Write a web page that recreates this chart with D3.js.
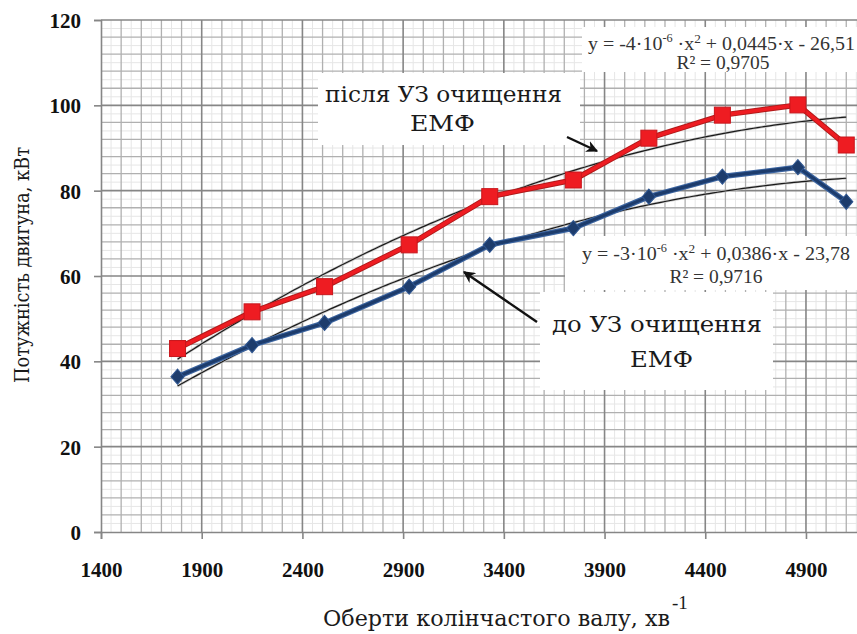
<!DOCTYPE html>
<html>
<head>
<meta charset="utf-8">
<script src="https://cdn.jsdelivr.net/npm/d3@7/dist/d3.min.js"></script>
<style>
  html, body { margin: 0; padding: 0; background: #fff; }
  svg { display: block; }
</style>
</head>
<body>
<svg id="chart" width="857" height="634"></svg>
<script>
// Crankshaft speed, rpm
const rpm = [1780, 2150, 2510, 2930, 3330, 3745, 4120, 4485, 4860, 5100];
// Engine power after ultrasonic cleaning, kW
const powerAfter = [43.0, 51.6, 57.5, 67.3, 78.6, 82.5, 92.3, 97.7, 100.1, 90.7];
// Engine power before ultrasonic cleaning, kW
const powerBefore = [36.4, 43.8, 49.0, 57.5, 67.3, 71.2, 78.6, 83.3, 85.5, 77.4];

const xTicks = [1400, 1900, 2400, 2900, 3400, 3900, 4400, 4900];
const yTicks = [0, 20, 40, 60, 80, 100, 120];

const eqAfter = "y = -4·10-6 ·x2 + 0,0445·x - 26,51";
const r2After = "R² = 0,9705";
const eqBefore = "y = -3·10-6 ·x2 + 0,0386·x - 23,78";
const r2Before = "R² = 0,9716";

const svg = d3.select("#chart");
const serif = "'Liberation Serif', 'DejaVu Serif Condensed', 'DejaVu Serif', serif";

const x = d3.scaleLinear().domain([1400, 5200]).range([101, 866.4]);
const y = d3.scaleLinear().domain([0, 120]).range([532, 20]);

const [x0, x1] = [x.range()[0], 857];
const [yBot, yTop] = y.range();

// --- grid ---------------------------------------------------------------
const grid = svg.append("g");
// fine grid
grid.selectAll(".fx").data(d3.range(1450, 5200, 100)).join("line")
  .attr("x1", d => x(d)).attr("x2", d => x(d)).attr("y1", yTop).attr("y2", yBot)
  .attr("stroke", "#e6e6e6").attr("stroke-width", 1);
grid.selectAll(".fy").data(d3.range(2, 120, 4)).join("line")
  .attr("x1", x0).attr("x2", x1).attr("y1", d => y(d)).attr("y2", d => y(d))
  .attr("stroke", "#e6e6e6").attr("stroke-width", 1);
// minor grid
grid.selectAll(".mx").data(d3.range(1500, 5200, 100).filter(d => (d - 1400) % 500 !== 0)).join("line")
  .attr("x1", d => x(d)).attr("x2", d => x(d)).attr("y1", yTop).attr("y2", yBot)
  .attr("stroke", "#b0b0b0").attr("stroke-width", 1.3);
grid.selectAll(".my").data(d3.range(4, 121, 4).filter(d => d % 20 !== 0)).join("line")
  .attr("x1", x0).attr("x2", x1).attr("y1", d => y(d)).attr("y2", d => y(d))
  .attr("stroke", "#b0b0b0").attr("stroke-width", 1.3);
// major grid
grid.selectAll(".Mx").data(xTicks.slice(1)).join("line")
  .attr("x1", d => x(d)).attr("x2", d => x(d)).attr("y1", yTop).attr("y2", yBot)
  .attr("stroke", "#868686").attr("stroke-width", 1.6);
grid.selectAll(".My").data(yTicks.slice(1)).join("line")
  .attr("x1", x0).attr("x2", x1).attr("y1", d => y(d)).attr("y2", d => y(d))
  .attr("stroke", "#868686").attr("stroke-width", 1.6);

// --- axes ---------------------------------------------------------------
const yAxis = svg.append("g").attr("transform", `translate(${x0},0)`)
  .call(d3.axisLeft(y).tickValues(yTicks).tickFormat(d3.format("d")).tickSize(7).tickPadding(13));
const xAxis = svg.append("g").attr("transform", `translate(0,${yBot})`)
  .call(d3.axisBottom(x).tickValues(xTicks).tickFormat(d3.format("d")).tickSize(7).tickPadding(23));
[xAxis, yAxis].forEach(g => {
  g.select(".domain").attr("stroke", "#868686").attr("stroke-width", 1.6);
  g.selectAll(".tick line").attr("stroke", "#868686").attr("stroke-width", 1.6);
  g.selectAll(".tick text").attr("fill", "#111").attr("font-family", serif)
    .attr("font-weight", "bold").attr("font-size", 21);
});
yAxis.selectAll(".tick text").attr("dy", "0.35em");

// --- annotation panels ----------------------------------------------------
const boxes = [
  [582, 27, 275, 45],
  [318, 73, 262, 72],
  [565, 236, 292, 54],
  [540, 292, 233, 98]
];
svg.append("g").selectAll("rect").data(boxes).join("rect")
  .attr("x", d => d[0]).attr("y", d => d[1]).attr("width", d => d[2]).attr("height", d => d[3])
  .attr("fill", "#fff");

// --- quadratic trend lines (least squares) --------------------------------
function quadFit(xs, ys) {
  const s = xs.map(v => v / 1000);
  const S = k => d3.sum(s, v => Math.pow(v, k));
  const T = k => d3.sum(s, (v, i) => Math.pow(v, k) * ys[i]);
  const A = [[S(4), S(3), S(2)], [S(3), S(2), S(1)], [S(2), S(1), s.length]];
  const b = [T(2), T(1), T(0)];
  for (let i = 0; i < 3; i++) {
    for (let j = i + 1; j < 3; j++) {
      const f = A[j][i] / A[i][i];
      for (let k = i; k < 3; k++) A[j][k] -= f * A[i][k];
      b[j] -= f * b[i];
    }
  }
  const c = [0, 0, 0];
  for (let i = 2; i >= 0; i--) {
    let v = b[i];
    for (let k = i + 1; k < 3; k++) v -= A[i][k] * c[k];
    c[i] = v / A[i][i];
  }
  return xv => { const t = xv / 1000; return c[0] * t * t + c[1] * t + c[2]; };
}

const trendLine = d3.line().x(d => x(d[0])).y(d => y(d[1]));
[powerAfter, powerBefore].forEach(series => {
  const f = quadFit(rpm, series);
  const pts = d3.range(rpm[0], rpm[rpm.length - 1] + 1, 20).map(v => [v, f(v)]);
  svg.append("path").attr("d", trendLine(pts)).attr("fill", "none")
    .attr("stroke", "#c8c8c8").attr("stroke-width", 2.6);
  svg.append("path").attr("d", trendLine(pts)).attr("fill", "none")
    .attr("stroke", "#1a1a1a").attr("stroke-width", 1.2);
});

// --- data series ----------------------------------------------------------
const line = d3.line().x(d => x(d[0])).y(d => y(d[1]));
const after = rpm.map((r, i) => [r, powerAfter[i]]);
const before = rpm.map((r, i) => [r, powerBefore[i]]);

svg.append("path").attr("d", line(before)).attr("fill", "none")
  .attr("stroke", "#3b64a0").attr("stroke-width", 5.5).attr("stroke-linejoin", "round");
svg.append("path").attr("d", line(before)).attr("fill", "none")
  .attr("stroke", "#1d3c6c").attr("stroke-width", 3.2).attr("stroke-linejoin", "round");
svg.append("g").selectAll("path").data(before).join("path")
  .attr("d", d3.symbol(d3.symbolDiamond2, 110)())
  .attr("transform", d => `translate(${x(d[0])},${y(d[1])}) scale(1,1.15)`)
  .attr("fill", "#1d3c6c").attr("stroke", "#2e5590").attr("stroke-width", 1);

svg.append("path").attr("d", line(after)).attr("fill", "none")
  .attr("stroke", "#b01a1a").attr("stroke-width", 5.5).attr("stroke-linejoin", "round");
svg.append("path").attr("d", line(after)).attr("fill", "none")
  .attr("stroke", "#ee1c22").attr("stroke-width", 3.6).attr("stroke-linejoin", "round");
svg.append("g").selectAll("rect").data(after).join("rect")
  .attr("x", d => x(d[0]) - 8).attr("y", d => y(d[1]) - 8)
  .attr("width", 16).attr("height", 16)
  .attr("fill", "#ee1c22").attr("stroke", "#c8161c").attr("stroke-width", 1);

// --- equation labels --------------------------------------------------------
function equation(g, text, cx, baseline, width) {
  const t = g.append("text").attr("x", cx).attr("y", baseline)
    .attr("text-anchor", "middle").attr("font-family", serif)
    .attr("font-size", 19.5).attr("fill", "#333");
  const m = text.match(/^(.*10)(-\d)( ·x)(2)( .*)$/);
  t.append("tspan").text(m[1]);
  t.append("tspan").attr("dy", -8).attr("font-size", 12).text(m[2]);
  t.append("tspan").attr("dy", 8).text(m[3]);
  t.append("tspan").attr("dy", -7).attr("font-size", 13).text(m[4]);
  t.append("tspan").attr("dy", 7).text(m[5]);
  const w = t.node().getComputedTextLength();
  t.attr("transform", `translate(${cx},0) scale(${width / w},1) translate(${-cx},0)`);
}
const labels = svg.append("g");
equation(labels, eqAfter, 721.5, 50, 267);
labels.append("text").attr("x", 723).attr("y", 69).attr("text-anchor", "middle")
  .attr("font-family", serif).attr("font-size", 19.5).attr("fill", "#333").text(r2After);
equation(labels, eqBefore, 716, 260, 268);
labels.append("text").attr("x", 716).attr("y", 283).attr("text-anchor", "middle")
  .attr("font-family", serif).attr("font-size", 19.5).attr("fill", "#333").text(r2Before);

// series captions, fitted to their measured widths
const cyr = "'DejaVu Serif Condensed', 'DejaVu Serif', 'Liberation Serif', serif";
function fitted(g, s, cx, yb, size, width) {
  return g.append("text").attr("x", cx - width / 2).attr("y", yb)
    .attr("font-family", cyr).attr("font-size", size).attr("fill", "#1a1a1a")
    .attr("textLength", width).attr("lengthAdjust", "spacingAndGlyphs").text(s);
}
const captions = [
  { lines: ["після УЗ очищення", "ЕМФ"], widths: [237, 65], cx: [443.5, 442.5], y0: 102, dy: 28.5 },
  { lines: ["до УЗ очищення", "ЕМФ"], widths: [210, 63], cx: [657, 661.5], y0: 332, dy: 35 }
];
captions.forEach(c => {
  c.lines.forEach((s, i) => fitted(labels, s, c.cx[i], c.y0 + i * c.dy, 22, c.widths[i]));
});

// arrows pointing at the curves
const defs = svg.append("defs");
defs.append("marker").attr("id", "head").attr("viewBox", "0 0 10 10")
  .attr("refX", 9).attr("refY", 5).attr("markerWidth", 5).attr("markerHeight", 5)
  .attr("orient", "auto")
  .append("path").attr("d", "M0,0 L10,5 L0,10 L3,5 Z").attr("fill", "#111");
const arrows = [[567, 137, 597, 151], [537, 322, 464, 272]];
svg.append("g").selectAll("line").data(arrows).join("line")
  .attr("x1", d => d[0]).attr("y1", d => d[1]).attr("x2", d => d[2]).attr("y2", d => d[3])
  .attr("stroke", "#111").attr("stroke-width", 2.4).attr("marker-end", "url(#head)");

// --- axis titles ------------------------------------------------------------
svg.append("text").attr("transform", "translate(29,265) rotate(-90)")
  .attr("x", -118).attr("font-family", cyr).attr("font-size", 21)
  .attr("textLength", 236).attr("lengthAdjust", "spacingAndGlyphs")
  .attr("fill", "#1a1a1a").text("Потужність двигуна, кВт");
fitted(svg, "Оберти колінчастого валу, хв", 323 + 347 / 2, 626, 23, 347);
svg.append("text").attr("x", 672).attr("y", 609)
  .attr("font-family", serif).attr("font-size", 19).attr("fill", "#1a1a1a").text("-1");
</script>
</body>
</html>
